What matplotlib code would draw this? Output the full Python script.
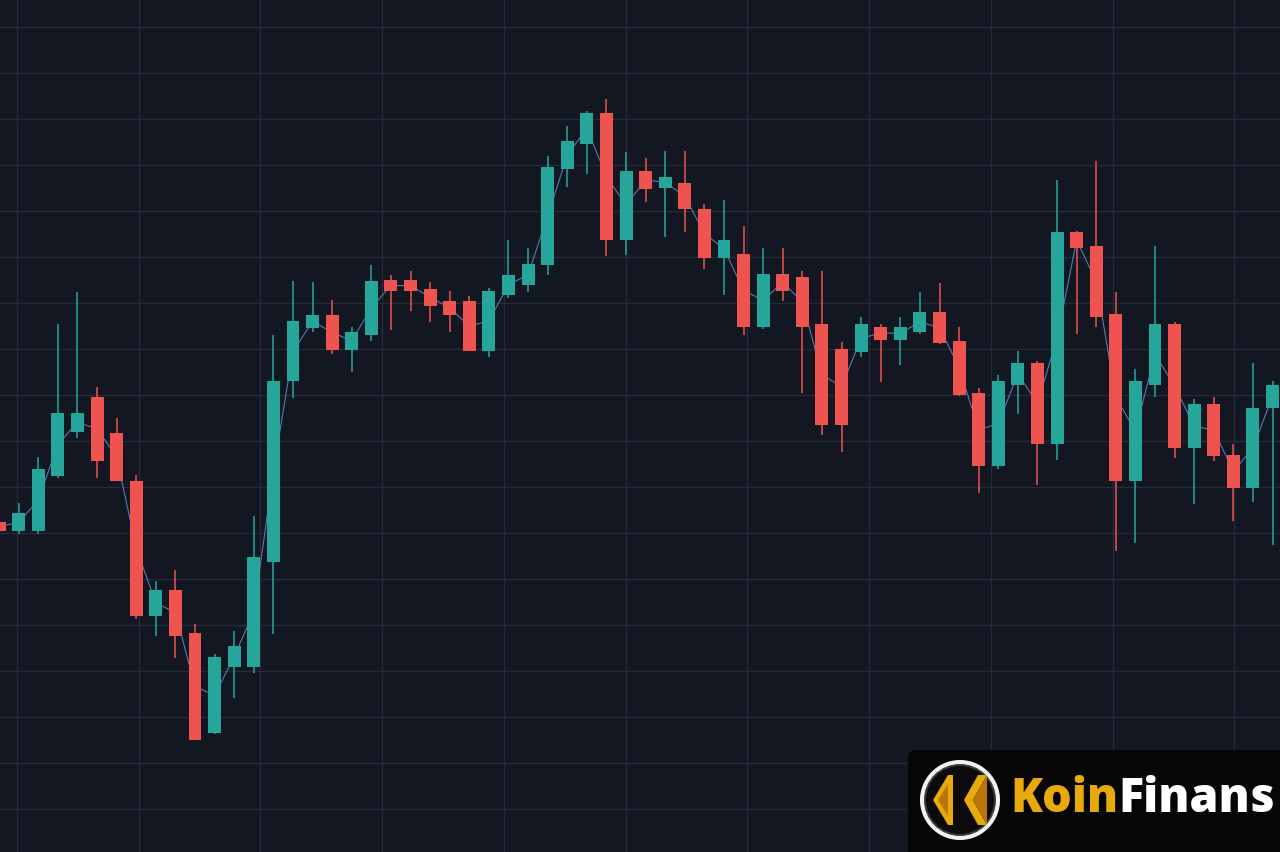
import matplotlib.pyplot as plt
import matplotlib.patches as mpatches
import numpy as np

# candle data (bar -1 is the one cut at the left edge)
opens = [162.5, 160.4, 160.4, 172.5, 182.0, 189.7, 181.8, 171.4, 142.1, 147.7,
         138.3, 116.5, 131.0, 131.0, 153.8, 193.0, 204.6, 207.5, 199.9, 203.2,
         215.0, 215.0, 213.1, 210.5, 210.5, 199.6, 211.8, 214.0, 218.3, 239.2,
         244.6, 251.3, 223.8, 238.8, 235.1, 236.2, 230.4, 219.9, 220.7, 204.9,
         216.4, 215.7, 205.4, 200.1, 199.3, 204.9, 202.1, 203.8, 208.0, 201.9,
         190.5, 174.6, 192.3, 197.0, 179.4, 225.4, 222.5, 207.7, 171.4, 192.3,
         205.5, 178.5, 188.1, 177.0, 169.9, 187.2]
highs = [162.9, 166.6, 176.5, 205.5, 212.5, 191.7, 185.0, 172.7, 149.7, 152.0,
         140.3, 133.8, 138.8, 163.7, 203.0, 214.9, 214.6, 210.8, 204.9, 218.4,
         216.2, 217.0, 214.7, 212.7, 211.5, 213.3, 223.8, 222.0, 242.1, 248.6,
         251.8, 254.4, 242.8, 241.6, 243.0, 243.0, 231.6, 232.5, 226.9, 222.0,
         222.0, 217.0, 217.1, 201.5, 207.0, 205.5, 207.0, 212.4, 214.4, 204.8,
         191.5, 194.3, 199.7, 197.5, 236.8, 225.7, 240.9, 212.4, 195.6, 222.5,
         205.9, 189.2, 189.6, 179.4, 197.0, 193.2]
lows = [160.3, 159.8, 159.8, 172.0, 180.7, 172.0, 171.4, 141.4, 137.7, 132.9,
        115.1, 116.4, 124.1, 129.6, 138.1, 189.4, 203.7, 199.0, 195.1, 201.7,
        204.2, 208.4, 206.0, 203.7, 199.6, 198.3, 211.2, 212.5, 216.2, 235.2,
        238.0, 220.3, 220.6, 232.0, 224.4, 225.4, 217.5, 211.9, 203.1, 204.4,
        210.6, 190.5, 181.4, 177.6, 198.3, 192.8, 196.6, 203.3, 201.2, 189.9,
        168.7, 174.0, 185.9, 170.4, 175.9, 203.3, 204.9, 156.2, 157.9, 189.6,
        176.3, 166.4, 175.6, 162.7, 166.9, 157.5]
closes = [160.4, 164.4, 174.0, 186.2, 186.2, 175.7, 171.4, 142.0, 147.7, 137.7,
          115.1, 133.0, 135.4, 154.8, 193.2, 206.1, 207.5, 199.9, 203.7, 214.9,
          212.7, 212.7, 209.5, 207.5, 199.6, 212.7, 216.2, 218.5, 239.6, 245.2,
          251.4, 223.8, 238.8, 234.9, 237.4, 230.4, 219.9, 223.8, 204.9, 216.4,
          212.7, 204.9, 183.6, 183.6, 205.5, 202.1, 204.9, 208.0, 201.4, 190.1,
          174.6, 193.0, 197.0, 179.4, 225.4, 222.0, 207.0, 171.4, 193.0, 205.5,
          178.5, 188.1, 176.7, 169.9, 187.2, 192.3]

UP = '#26a69a'
DOWN = '#ef5350'
BG = '#131722'
GRID = '#262b38'

o = np.array(opens)
h = np.array(highs)
l = np.array(lows)
c = np.array(closes)
idx = np.arange(-1, len(o) - 1)
cols = [UP if cc >= oo else DOWN for oo, cc in zip(o, c)]

fig = plt.figure(figsize=(12.8, 8.53), dpi=100)
fig.patch.set_facecolor(BG)
ax = fig.add_axes([0, 0, 1, 1])
ax.set_facecolor(BG)

# grid
ax.set_xlim(-0.955, 64.38)
ax.set_ylim(90.7, 276.15)
ax.set_yticks(np.arange(100, 271, 10))
ax.set_xticks(-0.1 + 6.215 * np.arange(11))
ax.grid(True, color=GRID, lw=1.0)
ax.set_axisbelow(True)
ax.tick_params(length=0, labelleft=False, labelbottom=False)
for s in ax.spines.values():
    s.set_visible(False)

# thin line through body midpoints
ax.plot(idx, (o + c) / 2, color='#5578b4', lw=0.8, zorder=2)

# candles
ax.vlines(idx, l, h, colors=cols, lw=1.1, zorder=3)
ax.bar(idx, np.abs(c - o), bottom=np.minimum(o, c), width=0.66,
       color=cols, zorder=4, linewidth=0)

# logo overlay in pixel coords
ov = fig.add_axes([0, 0, 1, 1])
ov.set_xlim(0, 1280)
ov.set_ylim(853, 0)
ov.axis('off')
ov.patch.set_alpha(0)
ov.add_patch(mpatches.FancyBboxPatch((908, 751), 400, 130,
             boxstyle='round,pad=0,rounding_size=8', fc='#060606', ec='none'))
cx, cy = 960, 801
ov.add_patch(mpatches.Circle((cx, cy), 40, fc='#f2f2f2', ec='none'))
ov.add_patch(mpatches.Circle((cx, cy), 36, fc='#3a3a3a', ec='none'))
ov.add_patch(mpatches.Circle((cx, cy), 34, fc='#0b0b0b', ec='none'))
gold = '#e8a90c'
ov.add_patch(mpatches.Polygon([(cx - 27, cy), (cx - 12, cy - 25), (cx - 7, cy - 25),
                               (cx - 7, cy + 25), (cx - 12, cy + 25)],
                              fc=gold, ec='none'))
ov.add_patch(mpatches.Polygon([(cx - 22, cy), (cx - 12, cy - 16), (cx - 12, cy + 16)],
                              fc='#b8760a', ec='none'))
ov.add_patch(mpatches.Polygon([(cx + 4, cy), (cx + 18, cy - 25), (cx + 27, cy - 25),
                               (cx + 13, cy), (cx + 27, cy + 25), (cx + 18, cy + 25)],
                              fc=gold, ec='none'))
ov.add_patch(mpatches.Polygon([(cx + 13, cy), (cx + 27, cy - 25), (cx + 27, cy + 25)],
                              fc='#b8760a', ec='none'))

t1 = ov.text(1010, 812, 'Koin', color=gold, fontsize=33.6, fontweight='heavy',
             family='Open Sans', va='baseline', ha='left')
fig.canvas.draw()
bb = t1.get_window_extent(renderer=fig.canvas.get_renderer())
x_end = ov.transData.inverted().transform((bb.x1, bb.y0))[0]
ov.text(x_end, 812, 'Finans', color='white', fontsize=33.6, fontweight='heavy',
        family='Open Sans', va='baseline', ha='left')

fig.savefig('out.png', dpi=100, facecolor=BG)
